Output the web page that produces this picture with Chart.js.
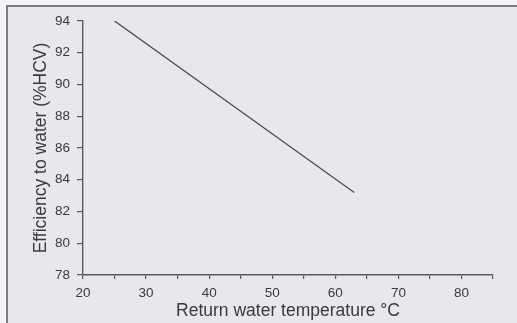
<!DOCTYPE html>
<html>
<head>
<meta charset="utf-8">
<script src="https://cdn.jsdelivr.net/npm/chart.js@4/dist/chart.umd.min.js"></script>
<style>
    html, body { margin: 0; padding: 0; background: #f3f3f5; }
    #wrap { position: relative; width: 517px; height: 323px; overflow: hidden; }
    #frame {
        position: absolute; left: 6px; top: 5px; right: 0; bottom: 0;
        background: #e8e7eb;
        border-top: 2px solid #7d7d80;
        border-left: 2px solid #7d7d80;
    }
    #chart { position: absolute; left: 0; top: 0; }
</style>
</head>
<body>
<div id="wrap">
    <div id="frame"></div>
    <canvas id="chart" width="517" height="323"></canvas>
</div>
<script>
// Return water temperature (°C) and efficiency to water (%HCV)
const returnTemp = [25, 63];
const efficiency = [94, 83.2];

const xLabels = [20, 30, 40, 50, 60, 70, 80];
const yLabels = [78, 80, 82, 84, 86, 88, 90, 92, 94];

const ink = '#3a3a3e';
const tickFont = { family: '"Liberation Sans", Arial, sans-serif', size: 13.5 };
const titleFont = { family: '"Liberation Sans", Arial, sans-serif', size: 17.5 };

const points = returnTemp.map((t, i) => ({ x: t, y: efficiency[i] }));

new Chart(document.getElementById('chart').getContext('2d'), {
    type: 'line',
    data: {
        datasets: [{
            data: points,
            borderColor: '#505054',
            borderWidth: 1.4,
            pointRadius: 0,
            fill: false,
            tension: 0,
        }],
    },
    options: {
        responsive: false,
        animation: false,
        layout: { padding: { left: 0, top: 21, right: 24, bottom: 0 } },
        plugins: { legend: { display: false }, tooltip: { enabled: false } },
        scales: {
            x: {
                type: 'linear',
                min: 20,
                max: 85,
                afterFit: (scale) => { scale.height = 48; },
                afterBuildTicks: (scale) => {
                    const t = [];
                    for (let v = 20; v <= 85; v += 5) t.push({ value: v });
                    scale.ticks = t;
                },
                ticks: {
                    color: ink,
                    font: tickFont,
                    padding: 6,
                    maxRotation: 0,
                    autoSkip: false,
                    callback: (v) => (xLabels.includes(v) ? String(v) : ''),
                },
                grid: { drawOnChartArea: false, drawTicks: true, tickLength: 4, color: '#5a5a5e', lineWidth: 1.2 },
                border: { display: true, color: '#5a5a5e', width: 1.4 },
                title: {
                    display: true,
                    text: 'Return water temperature °C',
                    color: ink,
                    font: titleFont,
                    padding: { top: 0, bottom: 1 },
                },
            },
            y: {
                min: 78,
                max: 94,
                afterFit: (scale) => { scale.width = 83; },
                afterBuildTicks: (scale) => {
                    scale.ticks = yLabels.map((v) => ({ value: v }));
                },
                ticks: { color: ink, font: tickFont, padding: 7 },
                grid: { drawOnChartArea: false, drawTicks: true, tickLength: 6, color: '#5a5a5e', lineWidth: 1.2 },
                border: { display: true, color: '#5a5a5e', width: 1.4 },
                title: {
                    display: true,
                    text: 'Efficiency to water (%HCV)',
                    color: ink,
                    font: titleFont,
                    padding: { top: 31, bottom: 0 },
                },
            },
        },
    },
});
</script>
</body>
</html>
